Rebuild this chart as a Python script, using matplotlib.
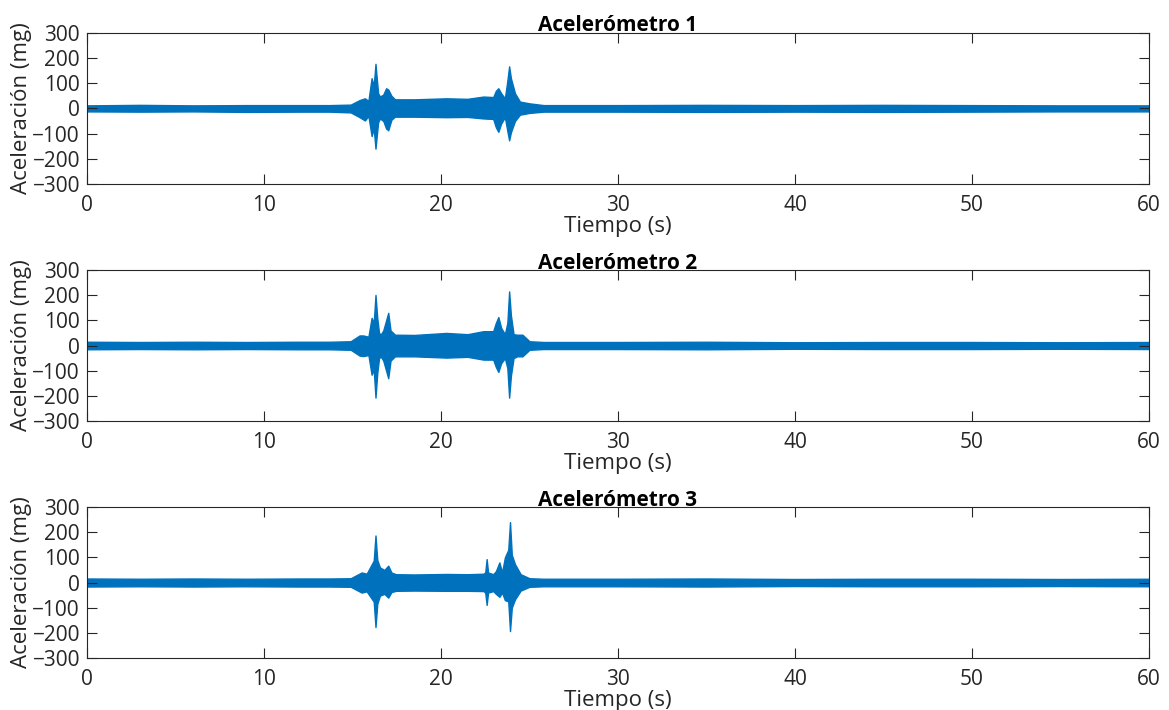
import matplotlib
matplotlib.use("Agg")
import matplotlib.pyplot as plt
import numpy as np

plt.rcParams['font.family'] = ['Open Sans', 'DejaVu Sans']

t1 = [0, 3, 6, 9, 12, 13.7, 14.9, 15.4, 15.7, 15.9, 16.08, 16.2, 16.3, 16.37, 16.45,
      16.55, 16.74, 16.9, 17.02, 17.2, 17.4, 18.5, 20.3, 21.5, 22.4, 22.95, 23.1, 23.24,
      23.4, 23.61, 23.75, 23.85, 23.95, 24.18, 24.46, 25.0, 25.8, 30, 35, 40, 45, 50, 55, 60]
up1 = [12, 14, 12, 13, 13, 13, 15, 33, 40, 30, 120, 90, 177, 120, 60,
       47, 55, 80, 75, 50, 36, 36, 40, 38, 47, 45, 70, 80,
       60, 40, 110, 167, 120, 60, 27, 20, 13, 13, 14, 13, 14, 13, 12, 12]
lo1 = [-12, -13, -12, -14, -13, -13, -16, -35, -48, -30, -110, -80, -160, -110, -55,
       -40, -50, -80, -87, -45, -33, -33, -35, -34, -40, -42, -75, -93,
       -60, -35, -90, -127, -95, -50, -25, -18, -13, -13, -14, -13, -14, -13, -12, -12]

t2 = [0, 3, 6, 9, 12, 13.7, 14.9, 15.4, 15.6, 15.9, 16.08, 16.2, 16.3, 16.4, 16.5,
      16.6, 16.74, 16.9, 17.02, 17.15, 17.4, 18.5, 20.3, 21.5, 22.4, 22.95, 23.1, 23.24,
      23.4, 23.61, 23.75, 23.85, 23.95, 24.1, 24.3, 24.6, 25.0, 25.8, 30, 35, 40, 45, 50, 55, 60]
up2 = [15, 14, 15, 14, 15, 15, 17, 40, 40, 35, 110, 90, 201, 110, 50,
       44, 60, 100, 130, 60, 43, 42, 50, 45, 57, 57, 90, 113,
       70, 45, 90, 215, 120, 45, 43, 43, 17, 14, 14, 15, 13, 14, 14, 13, 14]
lo2 = [-15, -14, -15, -14, -15, -15, -17, -40, -42, -38, -116, -95, -207, -110, -50,
       -44, -60, -100, -130, -60, -43, -43, -48, -45, -56, -56, -85, -105,
       -70, -50, -90, -207, -120, -50, -43, -43, -17, -14, -14, -15, -13, -14, -14, -13, -14]

t3 = [0, 3, 6, 9, 12, 13.7, 14.9, 15.52, 15.8, 16.2, 16.3, 16.4, 16.55, 16.8, 17.02,
      17.2, 17.45, 18.5, 20.3, 21.5, 22.4, 22.5, 22.58, 22.66, 22.95, 23.1, 23.3, 23.45,
      23.61, 23.8, 23.9, 24.0, 24.18, 24.5, 25.0, 25.8, 30, 35, 40, 45, 50, 55, 60]
up3 = [16, 15, 16, 15, 16, 16, 17, 40, 35, 87, 187, 90, 60, 50, 67,
       40, 33, 32, 34, 33, 35, 40, 93, 40, 33, 45, 80, 40,
       100, 130, 240, 110, 73, 33, 17, 15, 15, 16, 14, 15, 15, 14, 15]
lo3 = [-16, -15, -16, -15, -16, -16, -17, -40, -35, -76, -177, -85, -52, -45, -60,
       -38, -33, -32, -33, -33, -34, -40, -89, -40, -34, -45, -57, -40,
       -70, -75, -193, -100, -67, -32, -17, -15, -15, -16, -14, -15, -15, -14, -15]

titles = ['Acelerómetro 1', 'Acelerómetro 2', 'Acelerómetro 3']
series = [(t1, up1, lo1), (t2, up2, lo2), (t3, up3, lo3)]

blue = '#0072BD'
dark = '#262626'

fig = plt.figure(figsize=(11.69, 7.10), dpi=100)
bottoms = [0.741, 0.407, 0.0732]

for k in range(3):
    ax = fig.add_axes([0.0744, bottoms[k], 0.9085, 0.2127])
    t, up, lo = series[k]
    ax.fill_between(t, lo, up, color=blue, linewidth=1.0, edgecolor=blue)
    ax.set_xlim(0, 60)
    ax.set_ylim(-300, 300)
    ax.set_xticks(np.arange(0, 61, 10))
    ax.set_yticks(np.arange(-300, 301, 100))
    ax.tick_params(direction='in', length=7, width=0.8, top=True, right=True,
                   labelsize=15, colors=dark)
    ax.tick_params(axis='x', pad=8)
    ax.tick_params(axis='y', pad=5)
    for s in ax.spines.values():
        s.set_color(dark)
        s.set_linewidth(0.8)
    ax.set_title(titles[k], fontsize=15, fontweight='bold', pad=1, color='black')
    ax.set_xlabel('Tiempo (s)', fontsize=16, labelpad=0, color=dark)
    ax.set_ylabel('Aceleración (mg)', fontsize=16, labelpad=0, color=dark)

plt.savefig('out.png', dpi=100)
